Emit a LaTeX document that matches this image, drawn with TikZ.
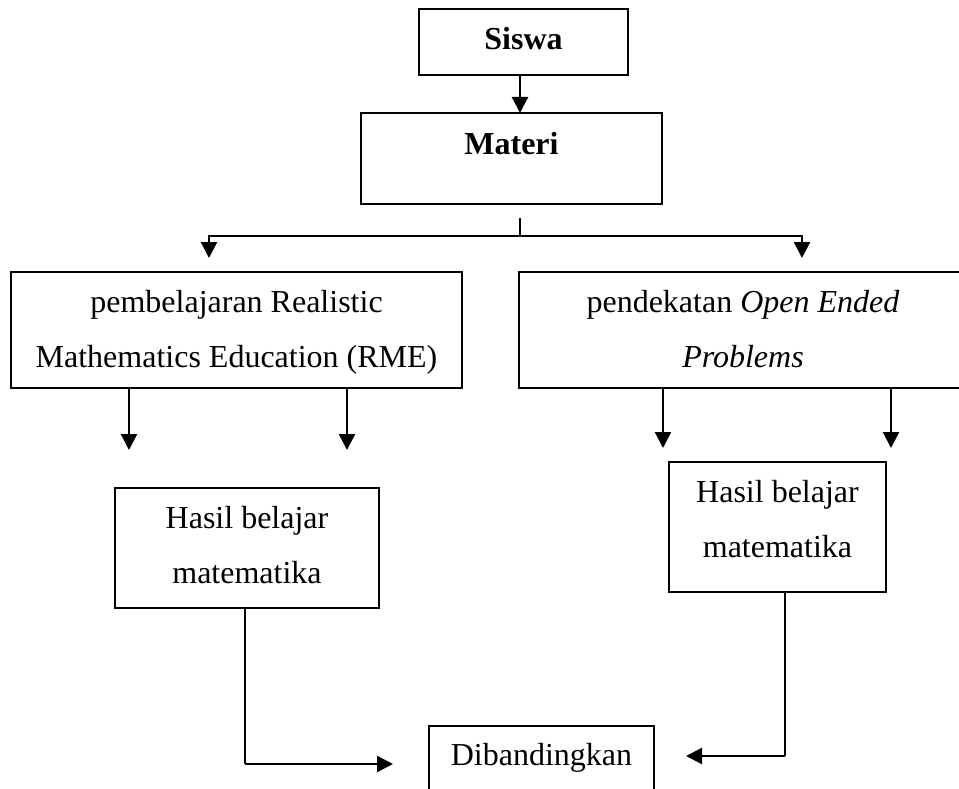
\documentclass[tikz,border=0pt]{standalone}
\usepackage{fontspec}
\setmainfont{Liberation Serif}
\usetikzlibrary{arrows.meta}
\begin{document}
\begin{tikzpicture}[x=1pt,y=-1pt,
  box/.style={draw, line width=1.8pt, inner sep=0pt, outer sep=0pt},
  txt/.style={font=\fontsize{32}{55}\selectfont, inner sep=0pt, anchor=base},
  arr/.style={line width=2.3pt, -{Triangle[length=16pt,width=16pt]}},
  ln/.style={line width=1.4pt}]
\useasboundingbox (0,0) rectangle (959,789);
% boxes
\node[box, minimum width=209pt, minimum height=66pt] (siswa) at (523.5,42) {};
\node[box, minimum width=301pt, minimum height=91pt] (materi) at (511.5,158.5) {};
\node[box, minimum width=451pt, minimum height=116pt] (rme) at (236.5,330) {};
\node[box, minimum width=448pt, minimum height=116pt] (oep) at (743,330) {};
\node[box, minimum width=264pt, minimum height=120pt] (hasilA) at (247,548) {};
\node[box, minimum width=217pt, minimum height=130pt] (hasilB) at (777.5,527) {};
\node[box, minimum width=225pt, minimum height=110pt] (banding) at (541.5,781) {};
% texts
\node[txt, font=\fontsize{32}{55}\selectfont\bfseries] (tsiswa) at (523.5,50) {Siswa};
\node[txt, font=\fontsize{32}{55}\selectfont\bfseries] (tmateri) at (511.5,155) {Materi};
\node[txt] (trme1) at (236.5,312) {pembelajaran Realistic};
\node[txt] (trme2) at (236.5,367) {Mathematics Education (RME)};
\node[txt] (toep1) at (743,312) {pendekatan \textit{Open Ended}};
\node[txt] (toep2) at (743,367) {\textit{Problems}};
\node[txt] (thA1) at (247,528) {Hasil belajar};
\node[txt] (thA2) at (247,583) {matematika};
\node[txt] (thB1) at (777.5,502) {Hasil belajar};
\node[txt] (thB2) at (777.5,557) {matematika};
\node[txt] (tband) at (541.5,765) {Dibandingkan};
% coordinates
\coordinate (split) at (520,236);
\coordinate (stub) at (520,218);
\coordinate (lt) at (209,258);
\coordinate (rt) at (802,258);
\coordinate (a1) at (129,450);
\coordinate (a2) at (347,450);
\coordinate (b1) at (663,448);
\coordinate (b2) at (891,448);
\coordinate (ca) at (245,764);
\coordinate (cb) at (785,756);
% connectors
\draw[arr] (siswa.south -| split) -- (materi.north -| split);
\draw[ln] (stub) -- (split);
\draw[arr] (split) -| (lt);
\draw[arr] (split) -| (rt);
\draw[arr] (rme.south -| a1) -- (a1);
\draw[arr] (rme.south -| a2) -- (a2);
\draw[arr] (oep.south -| b1) -- (b1);
\draw[arr] (oep.south -| b2) -- (b2);
\draw[ln] (hasilA.south -| ca) -- (ca);
\draw[arr] (ca) -- ([xshift=-36pt]banding.west |- ca);
\draw[ln] (hasilB.south -| cb) -- (cb);
\draw[arr] (cb) -- ([xshift=32pt]banding.east |- cb);
\end{tikzpicture}
\end{document}
